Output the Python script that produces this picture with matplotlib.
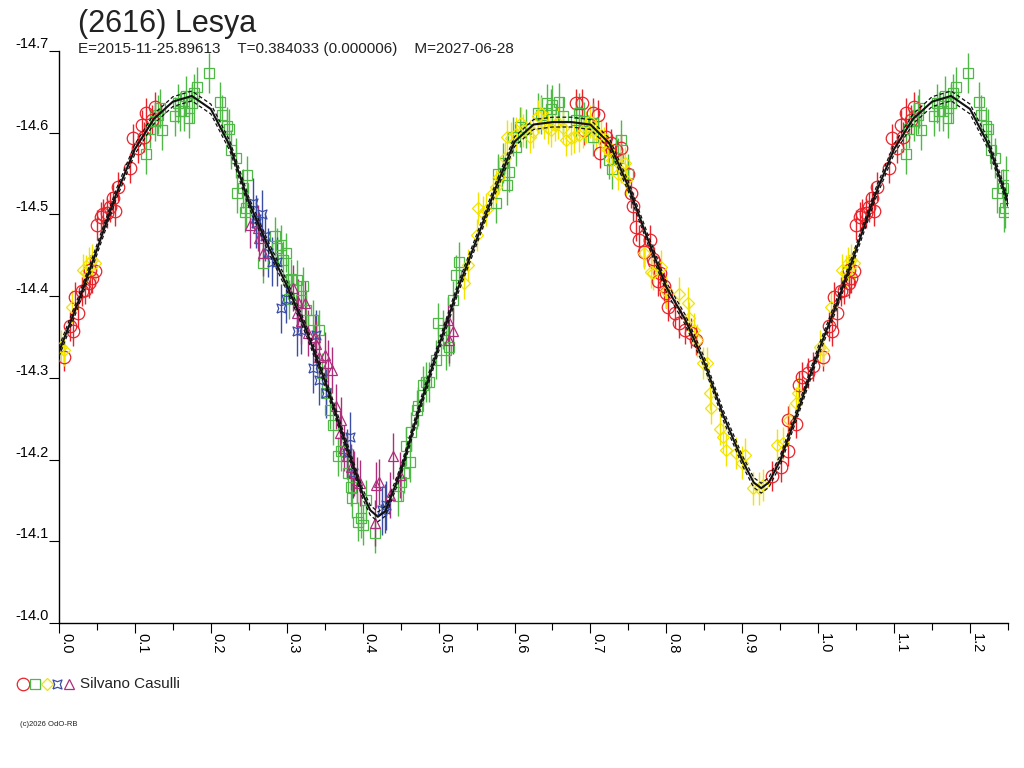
import numpy as np
import matplotlib
matplotlib.use("Agg")
import matplotlib.pyplot as plt
from matplotlib.lines import Line2D
from matplotlib.ticker import MultipleLocator

plt.rcParams['font.family'] = ['Liberation Sans', 'DejaVu Sans']
plt.rcParams['axes.unicode_minus'] = False

title = "(2616) Lesya"
subtitle = "E=2015-11-25.89613    T=0.384033 (0.000006)    M=2027-06-28"
observer = "Silvano Casulli"
credit = "(c)2026 OdO-RB"

# fitted light curve (phase 0..1)
curve_phase = [0.0, 0.025, 0.05, 0.075, 0.1, 0.125, 0.15, 0.175, 0.2, 0.225,
               0.25, 0.275, 0.3, 0.325, 0.35, 0.375, 0.4, 0.41, 0.42, 0.43,
               0.45, 0.475, 0.5, 0.525, 0.55, 0.575, 0.6, 0.625, 0.65, 0.675,
               0.7, 0.725, 0.75, 0.775, 0.8, 0.825, 0.85, 0.875, 0.9, 0.915,
               0.925, 0.935, 0.95, 0.975, 1.0]
curve_mag = [-14.332, -14.392, -14.457, -14.524, -14.580, -14.617, -14.638, -14.645, -14.629, -14.584,
             -14.515, -14.462, -14.413, -14.360, -14.297, -14.227, -14.158, -14.138, -14.130, -14.137,
             -14.185, -14.264, -14.338, -14.408, -14.469, -14.532, -14.589, -14.610, -14.613, -14.613,
             -14.610, -14.587, -14.534, -14.471, -14.411, -14.371, -14.319, -14.254, -14.199, -14.172,
             -14.165, -14.172, -14.199, -14.264, -14.332]
curve_sigma = 0.006

# observations, one list pair per marker set
red_phase = [0.006, 0.014, 0.018, 0.025, 0.021, 0.030, 0.034, 0.040, 0.043, 0.047,
             0.041, 0.050, 0.055, 0.058, 0.063, 0.067, 0.074, 0.071, 0.078, 0.093,
             0.097, 0.104, 0.109, 0.112, 0.115, 0.122, 0.126,
             0.681, 0.689, 0.703, 0.710, 0.692, 0.712, 0.721, 0.727, 0.734, 0.740,
             0.749, 0.754, 0.756, 0.760, 0.764, 0.771, 0.778, 0.782, 0.784, 0.791,
             0.789, 0.797, 0.800, 0.802, 0.811, 0.817, 0.824, 0.832, 0.839,
             0.939, 0.951, 0.960, 0.960, 0.971, 0.975, 0.979, 0.986, 0.993]
red_mag = [-14.326, -14.363, -14.357, -14.379, -14.399, -14.406, -14.408, -14.416, -14.422, -14.431,
           -14.432, -14.487, -14.497, -14.501, -14.502, -14.509, -14.504, -14.520, -14.534, -14.557,
           -14.593, -14.581, -14.610, -14.595, -14.624, -14.616, -14.632,
           -14.636, -14.636, -14.624, -14.622, -14.603, -14.575, -14.595, -14.587, -14.579, -14.581,
           -14.550, -14.526, -14.510, -14.485, -14.469, -14.454, -14.469, -14.446, -14.442, -14.428,
           -14.418, -14.412, -14.404, -14.387, -14.379, -14.367, -14.359, -14.355, -14.346,
           -14.180, -14.191, -14.210, -14.248, -14.244, -14.291, -14.301, -14.306, -14.314]

green_phase = [0.115, 0.120, 0.126, 0.131, 0.133, 0.136, 0.153, 0.157, 0.159, 0.164,
               0.167, 0.171, 0.175, 0.178, 0.182, 0.197, 0.212, 0.215, 0.221, 0.224,
               0.227, 0.233, 0.235, 0.243, 0.248, 0.246, 0.245, 0.269, 0.284, 0.287,
               0.292, 0.299, 0.295, 0.302, 0.313, 0.303,
               0.306, 0.322, 0.319, 0.326, 0.334, 0.343, 0.346, 0.352, 0.357, 0.361,
               0.368, 0.372, 0.381, 0.385, 0.386, 0.394, 0.398, 0.405, 0.400, 0.416,
               0.446, 0.451, 0.455, 0.462, 0.4575, 0.464, 0.471, 0.473, 0.479, 0.484,
               0.488, 0.497, 0.499, 0.506, 0.514, 0.510, 0.523, 0.527, 0.519,
               0.576, 0.578, 0.585, 0.590, 0.593, 0.598, 0.602, 0.607, 0.615, 0.631,
               0.635, 0.643, 0.648, 0.650, 0.658, 0.664, 0.681, 0.685, 0.692, 0.703,
               0.703, 0.725, 0.729, 0.736, 0.740, 0.749]
green_mag = [-14.574, -14.605, -14.614, -14.622, -14.630, -14.603, -14.620, -14.636, -14.626, -14.626,
             -14.645, -14.618, -14.636, -14.648, -14.656, -14.673, -14.638, -14.622, -14.608, -14.605,
             -14.579, -14.569, -14.526, -14.532, -14.548, -14.508, -14.503, -14.440, -14.473, -14.459,
             -14.463, -14.453, -14.444, -14.420, -14.420, -14.396,
             -14.421, -14.412, -14.395, -14.383, -14.371, -14.359, -14.306, -14.281, -14.261, -14.242,
             -14.204, -14.210, -14.183, -14.167, -14.153, -14.124, -14.128, -14.151, -14.120, -14.110,
             -14.155, -14.173, -14.183, -14.197, -14.216, -14.234, -14.261, -14.265, -14.291, -14.295,
             -14.295, -14.322, -14.367, -14.359, -14.338, -14.334, -14.426, -14.442, -14.395,
             -14.514, -14.550, -14.563, -14.536, -14.552, -14.595, -14.583, -14.607, -14.605, -14.624,
             -14.622, -14.636, -14.629, -14.634, -14.637, -14.620, -14.616, -14.624, -14.614, -14.612,
             -14.595, -14.567, -14.555, -14.569, -14.591, -14.550]

yellow_phase = [0.002, 0.006, 0.017, 0.032, 0.036, 0.039, 0.043, 0.047,
                0.534, 0.539, 0.550, 0.552, 0.558, 0.563, 0.571, 0.575, 0.580, 0.588,
                0.590, 0.596, 0.602, 0.609, 0.611, 0.620, 0.624, 0.631, 0.635, 0.639,
                0.644, 0.648, 0.653, 0.657, 0.664, 0.668, 0.675, 0.679, 0.685, 0.690,
                0.694, 0.699, 0.703, 0.707, 0.714, 0.718, 0.723, 0.729, 0.736, 0.740,
                0.745, 0.747, 0.771, 0.780, 0.793, 0.800,
                0.782, 0.817, 0.828, 0.830, 0.837, 0.841, 0.848, 0.854, 0.857, 0.859,
                0.870, 0.874, 0.879, 0.892, 0.903, 0.900, 0.914, 0.922, 0.927, 0.946,
                0.953, 0.962, 0.971, 0.973]
yellow_mag = [-14.338, -14.334, -14.387, -14.432, -14.430, -14.440, -14.444, -14.440,
              -14.416, -14.438, -14.475, -14.508, -14.502, -14.506, -14.526, -14.534, -14.546, -14.569,
              -14.595, -14.593, -14.599, -14.612, -14.603, -14.595, -14.601, -14.620, -14.624, -14.612,
              -14.606, -14.603, -14.610, -14.612, -14.606, -14.591, -14.593, -14.595, -14.597, -14.601,
              -14.607, -14.614, -14.606, -14.599, -14.597, -14.587, -14.579, -14.567, -14.550, -14.559,
              -14.563, -14.542, -14.453, -14.430, -14.436, -14.406,
              -14.428, -14.403, -14.391, -14.373, -14.359, -14.346, -14.318, -14.318, -14.281, -14.263,
              -14.238, -14.228, -14.212, -14.208, -14.206, -14.196, -14.165, -14.165, -14.169, -14.218,
              -14.220, -14.248, -14.269, -14.281]

blue_phase = [0.256, 0.259, 0.267, 0.260, 0.271, 0.275, 0.280, 0.287, 0.299, 0.293,
              0.313, 0.319, 0.338, 0.335, 0.343, 0.352, 0.383, 0.379, 0.387, 0.425,
              0.429, 0.431]
blue_mag = [-14.514, -14.494, -14.500, -14.489, -14.473, -14.453, -14.442, -14.442, -14.397, -14.385,
            -14.357, -14.359, -14.353, -14.312, -14.297, -14.281, -14.228, -14.208, -14.183, -14.138,
            -14.140, -14.144]

purple_phase = [0.251, 0.262, 0.264, 0.269, 0.308, 0.315, 0.313, 0.324, 0.319, 0.328,
                0.337, 0.339, 0.343, 0.350, 0.354, 0.359, 0.365, 0.372, 0.370, 0.376,
                0.379, 0.385, 0.389, 0.392, 0.396, 0.418, 0.421, 0.416, 0.440, 0.436,
                0.449, 0.512, 0.514, 0.519]
purple_mag = [-14.487, -14.483, -14.471, -14.453, -14.410, -14.393, -14.379, -14.391, -14.369, -14.355,
              -14.350, -14.342, -14.326, -14.328, -14.318, -14.310, -14.265, -14.248, -14.232, -14.214,
              -14.204, -14.191, -14.183, -14.175, -14.171, -14.169, -14.173, -14.122, -14.204, -14.157,
              -14.181, -14.371, -14.346, -14.357]

# typical error bar half-length per set (mag)
red_err = 0.018
green_err = 0.024
yellow_err = 0.020
blue_err = 0.030
purple_err = 0.028

star4 = [(-1, -1), (0, -0.62), (1, -1), (0.62, 0), (1, 1), (0, 0.62), (-1, 1), (-0.62, 0), (-1, -1)]

sets = [
    (red_phase, red_mag, red_err, '#e8232b', 'o', 9.0),
    (green_phase, green_mag, green_err, '#4fb847', 's', 7.0),
    (yellow_phase, yellow_mag, yellow_err, '#f2e400', 'D', 6.3),
    (blue_phase, blue_mag, blue_err, '#3a4ea6', star4, 6.5),
    (purple_phase, purple_mag, purple_err, '#ad2f7c', '^', 7.5),
]

fig = plt.figure(figsize=(10.24, 7.68), dpi=100)
ax = fig.add_axes([59/1024, 1-623/768, (1008-59)/1024, (623-51)/768])

for ph, mg, err, col, mk, ms in sets:
    ph = np.array(ph)
    mg = np.array(mg)
    wrap = ph < 0.25   # phases shown again past 1.0
    x = np.concatenate([ph, ph[wrap] + 1.0])
    y = np.concatenate([mg, mg[wrap]])
    ax.errorbar(x, y, yerr=err, fmt='none', ecolor=col, elinewidth=1.0, capsize=0, zorder=2)
    ax.plot(x, y, linestyle='none', marker=mk, ms=ms, mfc='none', mec=col, mew=0.9, zorder=3)

cp = np.array(curve_phase)
cm = np.array(curve_mag)
keep = cp <= 0.3
cx = np.concatenate([cp, cp[keep][1:] + 1.0])
cy = np.concatenate([cm, cm[keep][1:]])
ax.plot(cx, cy, color='#111111', lw=1.5, zorder=5)
ax.plot(cx, cy - curve_sigma, color='#111111', lw=0.9, ls=(0, (3, 2)), zorder=5)
ax.plot(cx, cy + curve_sigma, color='#111111', lw=0.9, ls=(0, (3, 2)), zorder=5)

ax.set_xlim(0, 1.25)
ax.set_ylim(-14.0, -14.7)
ax.spines['top'].set_visible(False)
ax.spines['right'].set_visible(False)
for s in ['left', 'bottom']:
    ax.spines[s].set_linewidth(1.0)
    ax.spines[s].set_color('black')

ax.set_xticks(np.arange(0, 1.21, 0.1))
ax.set_xticklabels(["%.1f" % v for v in np.arange(0, 1.21, 0.1)])
ax.xaxis.set_minor_locator(MultipleLocator(0.05))
ax.set_yticks(np.arange(-14.7, -13.99, 0.1))
ax.set_yticklabels(["%.1f" % v for v in np.arange(-14.7, -13.99, 0.1)])

ax.tick_params(axis='x', which='major', direction='out', length=7.2, width=0.8, pad=0,
               labelsize=10.5, labelrotation=-90)
ax.tick_params(axis='x', which='minor', direction='out', length=5, width=0.8)
ax.tick_params(axis='y', which='major', direction='out', length=7.2, width=0.8, pad=0, labelsize=10.5)
plt.setp(ax.get_xticklabels(), ha='left', va='top')
plt.setp(ax.get_yticklabels(), va='bottom')

fig.text(78/1024, 1-32/768, title, fontsize=22, color='#222222', va='baseline', ha='left')
fig.text(78/1024, 1-53/768, subtitle, fontsize=11, color='#222222', va='baseline', ha='left')

# legend row at the bottom
leg_y = 1 - 684/768
leg_items = [('o', '#e8232b', 9.0, 23), ('s', '#4fb847', 7.0, 35), ('D', '#f2e400', 6.3, 47),
             (star4, '#3a4ea6', 6.5, 57), ('^', '#ad2f7c', 7.5, 69)]
for mk, col, ms, px in leg_items:
    fig.add_artist(Line2D([px/1024], [leg_y], transform=fig.transFigure, linestyle='none',
                          marker=mk, ms=ms, mfc='none', mec=col, mew=0.9))
fig.text(80/1024, leg_y, observer, fontsize=11, color='#222222', va='center', ha='left')
fig.text(20/1024, 1-725/768, credit, fontsize=5.5, color='#222222', va='center', ha='left')

fig.savefig('out.png', dpi=100)
